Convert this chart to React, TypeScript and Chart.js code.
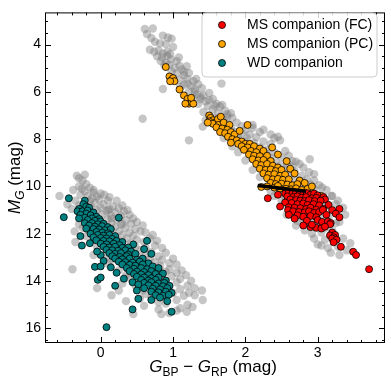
import React, { useEffect, useRef } from 'react';
import { Chart, registerables } from 'chart.js';

Chart.register(...registerables);

const xRange = [-0.77, 3.93];
const yRange = [2.64, 16.62];
const xMajorTicks = [0, 1, 2, 3];
const yMajorTicks = [4, 6, 8, 10, 12, 14, 16];
const xMinorStep = 0.2;
const yMinorStep = 0.5;

const legendLabels = ['MS companion (FC)', 'MS companion (PC)', 'WD companion'];
const seriesColors = ['#ff0000', '#ffa500', '#008080'];

const cutLineX = [2.17, 2.84];
const cutLineY = [9.96, 10.2];

const grayMS: number[][] = [
  [0.61,3.34],[0.72,3.32],[0.64,3.55],[0.75,3.88],[0.86,3.62],[0.93,3.7],[0.98,3.75],[0.7,3.72],[0.82,3.95],[0.9,3.98],[1.0,4.1],[0.68,4.22],[0.74,4.3],[0.8,4.25],[0.86,4.38],
  [0.78,4.5],[0.85,4.55],[0.92,4.48],[0.97,4.62],[0.83,4.7],[0.9,4.78],[1.05,4.7],[0.95,4.85],[1.09,4.9],[1.19,4.92],[1.02,4.98],[0.88,4.88],[1.12,5.05],
  [0.98,5.15],[1.05,5.22],[1.15,5.3],[1.22,5.2],[1.0,5.4],[1.1,5.5],[1.2,5.45],[1.28,5.55],[1.67,5.65],[1.15,5.7],[1.25,5.75],[1.35,5.68],[1.1,5.8],[0.86,5.88],[1.3,5.9],[1.4,5.85],[1.22,5.98],
  [1.33,6.1],[1.42,6.15],[1.5,6.05],[1.28,6.25],[1.38,6.3],[1.45,6.4],[1.55,6.3],[1.6,6.5],[1.35,6.5],[1.48,6.6],[1.65,6.62],[1.72,6.8],[1.55,6.75],[1.42,6.85],[1.62,6.9],[1.75,6.95],[1.5,7.0],[0.58,7.14],
  [1.58,7.1],[1.7,7.15],[1.82,7.1],[1.62,7.3],[1.75,7.35],[1.88,7.3],[1.95,7.45],[1.68,7.5],[1.8,7.55],[2.0,7.6],[2.1,7.52],[1.85,7.7],[1.95,7.75],[2.06,7.8],[2.2,7.7],[1.75,7.85],[1.9,7.9],[2.02,7.95],[2.15,7.92],[2.45,7.9],[1.22,8.05],
  [1.9,8.05],[2.0,8.1],[2.12,8.15],[2.25,8.1],[2.35,8.2],[1.95,8.25],[2.08,8.3],[2.2,8.35],[2.3,8.45],[2.05,8.5],[2.15,8.55],[2.28,8.6],[2.4,8.55],[2.55,8.5],[2.12,8.7],[2.22,8.75],[2.35,8.8],[2.5,8.78],[2.89,8.85],[2.2,8.9],[2.3,8.95],[2.42,8.98],[2.65,8.92],
  [2.25,9.05],[2.35,9.1],[2.48,9.12],[2.58,9.05],[2.75,9.05],[2.3,9.25],[2.42,9.3],[2.55,9.28],[2.68,9.35],[2.38,9.45],[2.5,9.5],[2.62,9.52],[2.78,9.55],[2.95,9.48],[2.45,9.65],[2.56,9.7],[2.7,9.72],[2.85,9.7],[2.5,9.85],[2.62,9.9],[2.75,9.88],[2.9,9.92],[3.06,10.04],
  [2.45,10.05],[2.58,10.1],[2.7,10.05],[2.82,10.15],[2.95,10.1],[3.19,10.4],[2.5,10.25],[2.65,10.3],[2.78,10.35],[2.9,10.3],[3.02,10.35],[2.55,10.45],[2.68,10.5],[2.8,10.55],[2.92,10.5],[3.1,10.6],[2.6,10.65],[2.72,10.7],[2.85,10.75],[2.98,10.8],[3.2,10.4],[2.62,10.85],[2.75,10.9],[2.88,10.95],[3.05,10.9],[3.25,10.75],
  [2.57,11.2],[2.7,11.1],[2.82,11.15],[2.95,11.1],[3.08,11.2],[3.22,11.1],[2.78,11.35],[2.9,11.4],[3.02,11.45],[3.15,11.38],[2.7,11.65],[2.85,11.6],[2.98,11.7],[3.1,11.75],[3.3,11.5],[2.92,12.0],[3.05,11.95],[3.18,12.05],
  [3.1,12.25],[3.22,12.3],[3.14,12.6],[3.3,12.9],[3.0,12.45],[3.28,12.55],[3.45,12.4],[3.35,12.2],
  [1.41,7.47],[1.45,7.2],[2.1,7.4],[2.25,7.6],[2.35,7.8],[2.48,8.05],[2.4,7.95],[1.3,6.0],[1.38,6.2],[1.5,6.35],[1.58,6.6],[1.68,6.55],[1.8,6.9],[1.75,7.05],[1.2,5.65],[1.32,5.45],[0.92,4.3],[0.96,4.4],[1.08,4.55],[1.15,5.15],
  [2.6,8.7],[2.7,8.95],[2.8,9.2],[2.88,9.4],[2.65,9.15],[2.95,9.75],[3.02,9.95],[3.12,10.15],[3.28,10.6],[3.35,10.9],[3.38,11.2],[3.25,11.55],[3.2,11.85],[2.6,10.95],[2.5,10.6],[2.4,10.4],[2.35,10.2],[2.2,9.6],[2.1,9.3],[2.0,8.9],[1.9,8.55],[1.82,8.3],[1.7,7.95],[2.72,11.45],[2.82,11.85],[2.95,12.2],[3.05,12.5],[3.18,12.8],[3.4,12.7]
];

const grayWD: number[][] = [
  [-0.33,9.55],[-0.25,9.75],[-0.2,9.9],[-0.3,10.0],[-0.15,10.05],[-0.38,10.15],[-0.22,10.2],[-0.1,10.25],[-0.57,10.4],[-0.28,10.35],[-0.18,10.4],[-0.05,10.42],[0.05,10.35],[-0.12,10.5],
  [-0.35,10.6],[-0.02,10.55],[0.1,10.6],[-0.08,10.7],[0.04,10.75],[0.17,10.85],[-0.14,10.82],[0.0,10.9],[0.12,10.95],[0.25,10.92],[-0.4,10.95],[-0.05,11.0],[0.08,11.05],[0.2,11.1],[0.32,11.05],[-0.18,11.12],[0.02,11.2],[0.14,11.22],[0.28,11.25],[0.4,11.2],[-0.08,11.3],[0.1,11.38],[0.22,11.4],[0.35,11.42],
  [-0.36,11.9],[0.0,11.55],[0.15,11.55],[0.28,11.6],[0.42,11.58],[0.05,11.7],[0.2,11.72],[0.34,11.75],[0.48,11.8],[-0.25,11.75],[0.1,11.85],[0.25,11.9],[0.4,11.95],[0.55,11.9],[0.15,12.0],[0.3,12.05],[0.45,12.08],[0.68,12.2],[-0.2,12.1],[0.2,12.15],[0.36,12.2],[0.5,12.25],[0.6,12.35],[0.25,12.32],[0.42,12.4],[-0.35,12.35],
  [0.3,12.5],[0.48,12.55],[0.62,12.6],[0.75,12.5],[0.38,12.65],[0.55,12.7],[0.7,12.78],[0.45,12.82],[0.62,12.9],[0.8,12.95],[-0.1,12.9],[0.52,13.0],[0.68,13.05],[0.85,13.1],[0.6,13.15],[0.75,13.2],[0.95,13.25],[0.1,13.25],[0.65,13.3],[0.82,13.35],[0.95,13.5],[-0.39,13.5],[0.72,13.45],
  [0.78,13.55],[0.9,13.6],[1.05,13.65],[0.85,13.75],[0.98,13.8],[1.1,13.9],[0.35,13.75],[0.6,14.0],[0.9,14.0],[1.05,14.05],[1.2,14.2],[0.95,14.25],[1.1,14.35],[1.4,14.4],[0.3,14.1],[1.0,14.5],[1.3,14.6],[1.15,14.62],[0.62,14.55],[1.41,14.8],[1.05,14.8],[0.9,14.95],[1.2,15.0],[0.6,15.05],[1.27,15.1],[0.8,15.2],[1.05,15.25],[1.19,15.3],[0.45,15.4],[0.95,15.35],[-0.05,14.3],[0.15,14.6],[0.84,15.4],[0.54,14.75],
  [-0.3,9.65],[-0.22,9.5],[-0.26,10.1],[-0.1,10.15],[0.0,10.3],[0.12,10.45],[0.22,10.6],[0.3,10.8],[0.37,11.0],[0.45,11.35],[0.5,11.5],[0.58,11.65],[0.62,11.95],[0.72,12.05],[0.78,12.3],[0.85,12.6],[0.9,12.8],[1.0,13.05],[1.05,13.3],[1.12,13.55],[1.18,13.75],[1.25,14.0],[1.3,14.3],[1.22,14.5],
  [-0.15,10.6],[-0.3,10.8],[-0.46,10.75],[-0.2,11.45],[-0.3,11.6],[-0.16,11.9],[-0.1,12.25],[-0.05,12.55],[0.05,13.0],[0.15,13.1],[0.25,13.55],[0.38,13.85],[0.48,14.2],[0.58,14.4],[0.7,14.7],[0.8,14.9],[1.1,15.15],[0.25,14.4],[0.35,14.85],[0.1,11.0],[0.3,11.6],[0.15,11.35],[0.42,12.65],[0.55,13.4],[0.7,13.9],[0.9,14.3]
];

const msPC: number[][] = [
  [0.9,4.95],[0.95,5.35],[0.98,5.5],[1.0,5.42],[1.02,5.55],[0.96,5.55],[1.09,5.9],[1.15,6.15],[1.2,6.3],[1.22,6.5],[1.26,6.45],[1.28,6.5],[1.17,6.5],[1.25,6.25],
  [1.5,7.0],[1.52,7.1],[1.55,7.2],[1.5,7.25],[1.58,7.3],[1.62,7.15],[1.66,7.05],[1.55,7.35],[1.63,7.4],[1.48,7.3],[1.7,7.3],[1.78,7.4],[1.6,7.5],[1.68,7.55],[1.75,7.6],[2.03,7.4],[1.65,7.7],[1.72,7.75],[1.8,7.7],[1.85,7.8],[1.76,7.9],[1.92,7.65],
  [1.82,8.0],[1.88,8.05],[1.95,8.1],[1.8,8.15],[1.9,8.2],[2.0,8.2],[2.06,8.2],[1.95,8.3],[2.03,8.35],[2.12,8.3],[2.2,8.4],[2.37,8.35],[1.98,8.45],[2.08,8.5],[2.15,8.55],[2.25,8.5],[2.05,8.65],[2.12,8.7],[2.2,8.72],[2.3,8.7],[2.45,8.65],[2.1,8.85],[2.18,8.9],[2.25,8.88],[2.35,8.92],[2.57,8.93],
  [2.15,9.05],[2.22,9.1],[2.3,9.05],[2.38,9.12],[2.45,9.2],[2.2,9.25],[2.28,9.3],[2.35,9.28],[2.42,9.35],[2.5,9.3],[2.62,9.25],[2.25,9.45],[2.32,9.5],[2.4,9.48],[2.48,9.55],[2.55,9.5],[2.68,9.45],[2.3,9.65],[2.38,9.7],[2.45,9.68],[2.52,9.72],[2.6,9.7],[2.75,9.75],[2.35,9.85],[2.42,9.9],[2.5,9.88],[2.58,9.92],[2.65,9.95],[2.72,9.9],[2.82,9.85],
  [2.22,10.02],[2.3,10.0],[2.4,10.05],[2.48,10.08],[2.56,10.1],[2.63,10.12],[2.7,10.08],[2.78,10.15],[2.86,10.1],[3.05,10.4],[2.92,10.0],[2.45,9.98]
];

const msFC: number[][] = [
  [2.31,10.5],[2.45,10.35],[2.55,10.3],[2.6,10.25],[2.65,10.3],[2.7,10.28],[2.75,10.3],[2.8,10.32],[2.85,10.28],[2.9,10.35],[2.95,10.3],[3.0,10.38],[3.08,10.45],[2.58,10.42],[2.66,10.45],[2.72,10.42],[2.78,10.48],[2.84,10.45],[2.92,10.5],[2.98,10.48],[3.1,10.55],
  [2.62,10.55],[2.7,10.58],[2.76,10.6],[2.82,10.62],[2.88,10.58],[2.96,10.62],[3.04,10.6],[2.55,10.68],[2.64,10.7],[2.72,10.75],[2.8,10.72],[2.86,10.78],[2.94,10.75],[3.02,10.8],[3.15,10.78],
  [2.48,10.85],[2.6,10.88],[2.68,10.9],[2.76,10.92],[2.84,10.95],[2.9,10.9],[2.98,10.98],[3.08,10.95],[3.3,10.95],[2.59,11.0],[2.66,11.05],[2.74,11.08],[2.82,11.1],[2.88,11.05],[2.95,11.12],[3.02,11.08],[3.07,10.99],[3.2,11.0],
  [2.6,11.2],[2.72,11.22],[2.8,11.28],[2.9,11.25],[2.98,11.3],[3.12,11.2],[3.25,11.15],[3.3,11.3],[2.68,11.36],[2.85,11.45],[3.0,11.42],[3.06,11.5],[3.14,11.48],[3.18,11.55],[3.17,11.6],
  [2.8,11.65],[2.9,11.72],[2.98,11.75],[3.05,11.78],[2.92,11.62],[3.1,11.7],
  [3.2,11.95],[3.17,12.07],[3.24,12.05],[3.22,12.15],[3.2,12.2],[3.26,12.25],[3.22,12.36],[3.32,12.55],[3.49,12.76],[3.53,12.9],[3.71,13.5]
];

const wdComp: number[][] = [
  [-0.44,10.5],[-0.22,10.6],[-0.24,10.75],[-0.2,10.85],[-0.3,10.95],[-0.16,10.9],[-0.51,11.3],
  [-0.32,11.05],[-0.25,11.05],[-0.18,11.02],[-0.1,11.1],[-0.2,11.15],[-0.28,11.2],[-0.14,11.22],[-0.06,11.28],[-0.22,11.32],[-0.12,11.35],[-0.02,11.38],[-0.18,11.42],[-0.08,11.45],[0.25,11.32],[-0.3,11.35],[0.0,11.48],
  [-0.22,11.55],[-0.12,11.55],[-0.04,11.6],[0.04,11.58],[-0.16,11.65],[-0.08,11.7],[0.02,11.68],[0.1,11.72],[-0.2,11.78],[-0.1,11.8],[-0.02,11.82],[0.06,11.85],[0.14,11.8],[-0.06,11.92],[0.02,11.95],[0.1,11.98],[-0.14,12.0],[-0.28,12.1],
  [-0.04,12.05],[0.04,12.08],[0.12,12.05],[0.2,12.1],[-0.1,12.15],[0.0,12.18],[0.08,12.2],[0.16,12.22],[0.64,12.3],[-0.06,12.28],[0.04,12.3],[0.12,12.32],[0.22,12.3],[0.3,12.35],[0.0,12.42],[0.08,12.45],[0.18,12.42],[0.26,12.48],[-0.26,12.5],[0.45,12.45],[-0.15,12.4],
  [0.04,12.55],[0.12,12.58],[0.2,12.55],[0.3,12.6],[0.38,12.58],[0.08,12.68],[0.16,12.7],[0.24,12.72],[0.34,12.7],[0.42,12.75],[0.6,12.65],[0.12,12.82],[0.2,12.85],[0.28,12.82],[0.38,12.88],[0.48,12.85],[0.0,12.9],[0.16,12.95],[0.26,12.98],[0.36,12.95],[0.7,12.85],[-0.05,12.75],
  [0.2,13.05],[0.3,13.08],[0.4,13.05],[0.5,13.1],[0.58,13.05],[0.04,13.15],[0.25,13.18],[0.34,13.2],[0.44,13.22],[0.54,13.18],[0.66,13.25],[0.3,13.3],[0.4,13.32],[0.48,13.35],[0.58,13.3],[0.72,13.38],[-0.08,13.4],[0.0,13.38],[0.36,13.45],[0.46,13.48],[0.56,13.45],[0.64,13.5],[0.8,13.45],[0.14,13.42],
  [0.4,13.58],[0.5,13.6],[0.6,13.62],[0.7,13.58],[0.46,13.7],[0.56,13.72],[0.66,13.75],[0.76,13.7],[0.86,13.68],[0.22,13.65],[-0.04,13.95],[0.0,13.85],[0.5,13.82],[0.6,13.85],[0.7,13.88],[0.8,13.85],[0.32,13.9],[0.56,13.95],[0.66,13.98],[0.76,13.95],[0.9,13.98],
  [0.44,14.05],[0.6,14.08],[0.7,14.05],[0.8,14.1],[0.88,14.08],[0.52,14.15],[0.66,14.18],[0.76,14.2],[0.86,14.22],[0.95,14.2],[0.6,14.3],[0.72,14.32],[0.82,14.35],[0.92,14.3],[0.2,14.2],[0.7,14.45],[0.8,14.48],[0.9,14.45],[0.98,14.5],[0.5,14.4],
  [0.76,14.6],[0.86,14.62],[0.94,14.58],[0.82,14.7],[0.7,14.8],[0.92,14.85],[0.52,14.75],[0.44,15.2],[0.98,15.3],[0.08,15.95]
];

const FONT = '"Liberation Sans", Arial, Helvetica, sans-serif';

const toXY = (pts: number[][]) => pts.map(([x, y]) => ({ x, y }));

const decorPlugin = {
  id: 'decor',
  afterDraw(chart: any) {
    const { ctx, chartArea: a, scales } = chart;
    const xs = scales.x;
    const ys = scales.y;
    ctx.save();
    ctx.strokeStyle = '#000';
    ctx.lineWidth = 1;
    ctx.strokeRect(a.left + 0.5, a.top + 0.5, a.right - a.left - 1, a.bottom - a.top - 1);
    const seg = (x1: number, y1: number, x2: number, y2: number) => {
      ctx.beginPath();
      ctx.moveTo(x1, y1);
      ctx.lineTo(x2, y2);
      ctx.stroke();
    };
    const xTick = (v: number, len: number) => {
      const px = Math.round(xs.getPixelForValue(v)) + 0.5;
      if (px < a.left || px > a.right) return;
      seg(px, a.bottom, px, a.bottom - len);
      seg(px, a.top, px, a.top + len);
    };
    const yTick = (v: number, len: number) => {
      const py = Math.round(ys.getPixelForValue(v)) + 0.5;
      if (py < a.top || py > a.bottom) return;
      seg(a.left, py, a.left + len, py);
      seg(a.right, py, a.right - len, py);
    };
    for (let i = Math.ceil(xRange[0] / xMinorStep); i * xMinorStep <= xRange[1]; i++) xTick(i * xMinorStep, 3);
    for (let i = Math.ceil(yRange[0] / yMinorStep); i * yMinorStep <= yRange[1]; i++) yTick(i * yMinorStep, 3);
    xMajorTicks.forEach((v) => xTick(v, 6));
    yMajorTicks.forEach((v) => yTick(v, 6));

    // legend
    const lx = 202, ly = 13, lw = 175, lh = 64, r = 4;
    ctx.beginPath();
    ctx.moveTo(lx + r, ly);
    ctx.arcTo(lx + lw, ly, lx + lw, ly + lh, r);
    ctx.arcTo(lx + lw, ly + lh, lx, ly + lh, r);
    ctx.arcTo(lx, ly + lh, lx, ly, r);
    ctx.arcTo(lx, ly, lx + lw, ly, r);
    ctx.closePath();
    ctx.fillStyle = 'rgba(255,255,255,0.8)';
    ctx.fill();
    ctx.strokeStyle = '#cccccc';
    ctx.stroke();
    ctx.font = `14px ${FONT}`;
    ctx.textBaseline = 'middle';
    ctx.textAlign = 'left';
    legendLabels.forEach((lab, i) => {
      const cy = 25 + i * 19;
      ctx.beginPath();
      ctx.arc(222, cy, 3.5, 0, Math.PI * 2);
      ctx.fillStyle = seriesColors[i];
      ctx.fill();
      ctx.strokeStyle = '#000';
      ctx.lineWidth = 0.8;
      ctx.stroke();
      ctx.fillStyle = '#000';
      ctx.fillText(lab, 247, cy + 0.5);
    });

    // axis titles
    const drawRich = (parts: { t: string; font: string; dy: number }[], cx: number, by: number) => {
      let w = 0;
      parts.forEach((p) => { ctx.font = p.font; w += ctx.measureText(p.t).width; });
      let x = cx - w / 2;
      ctx.textAlign = 'left';
      ctx.textBaseline = 'alphabetic';
      ctx.fillStyle = '#000';
      parts.forEach((p) => {
        ctx.font = p.font;
        ctx.fillText(p.t, x, by + p.dy);
        x += ctx.measureText(p.t).width;
      });
    };
    const big = `17px ${FONT}`;
    const bigIt = `italic 17px ${FONT}`;
    const sub = `12px ${FONT}`;
    const subIt = `italic 12px ${FONT}`;
    drawRich([
      { t: 'G', font: bigIt, dy: 0 },
      { t: 'BP', font: sub, dy: 4 },
      { t: ' \u2212 ', font: big, dy: 0 },
      { t: 'G', font: bigIt, dy: 0 },
      { t: 'RP', font: sub, dy: 4 },
      { t: ' (mag)', font: big, dy: 0 },
    ], (a.left + a.right) / 2 - 2, 372);
    ctx.save();
    ctx.translate(20, (a.top + a.bottom) / 2);
    ctx.rotate(-Math.PI / 2);
    drawRich([
      { t: 'M', font: bigIt, dy: 0 },
      { t: 'G', font: subIt, dy: 4 },
      { t: ' (mag)', font: big, dy: 0 },
    ], 0, 0);
    ctx.restore();
    ctx.restore();
  },
};

export default function App() {
  const ref = useRef<HTMLCanvasElement>(null);
  useEffect(() => {
    document.body.style.margin = '0';
    const canvas = ref.current!;
    const chart = new Chart(canvas, {
      type: 'scatter',
      data: {
        datasets: [
          {
            label: 'cut',
            data: cutLineX.map((x, i) => ({ x, y: cutLineY[i] })),
            showLine: true,
            borderColor: '#000',
            borderWidth: 3.5,
            pointRadius: 0,
          } as any,
          {
            label: legendLabels[0],
            data: toXY(msFC),
            backgroundColor: seriesColors[0],
            borderColor: '#000',
            borderWidth: 0.8,
            pointRadius: 3.5,
          },
          {
            label: legendLabels[1],
            data: toXY(msPC),
            backgroundColor: seriesColors[1],
            borderColor: '#000',
            borderWidth: 0.8,
            pointRadius: 3.5,
          },
          {
            label: legendLabels[2],
            data: toXY(wdComp),
            backgroundColor: seriesColors[2],
            borderColor: '#000',
            borderWidth: 0.8,
            pointRadius: 3.5,
          },
          {
            label: 'all',
            data: toXY(grayMS.concat(grayWD)),
            backgroundColor: 'rgba(128,128,128,0.45)',
            borderWidth: 0,
            pointRadius: 4.2,
          },
        ],
      },
      options: {
        responsive: false,
        animation: false,
        layout: { padding: { left: 0, top: 5, right: 6, bottom: 0 } },
        plugins: { legend: { display: false }, tooltip: { enabled: false } },
        scales: {
          x: {
            type: 'linear',
            min: xRange[0],
            max: xRange[1],
            afterBuildTicks: (s: any) => { s.ticks = xMajorTicks.map((value) => ({ value })); },
            afterFit: (s: any) => { s.height = 43; },
            grid: { display: false, drawTicks: false },
            border: { display: false },
            ticks: { color: '#000', font: { family: FONT, size: 14 }, padding: 2, maxRotation: 0 },
          },
          y: {
            type: 'linear',
            reverse: true,
            min: yRange[0],
            max: yRange[1],
            afterBuildTicks: (s: any) => { s.ticks = yMajorTicks.map((value) => ({ value })); },
            afterFit: (s: any) => { s.width = 45; },
            grid: { display: false, drawTicks: false },
            border: { display: false },
            ticks: { color: '#000', font: { family: FONT, size: 14 }, padding: 4 },
          },
        },
      },
      plugins: [decorPlugin],
    });
    return () => chart.destroy();
  }, []);
  return (
    <div style={{ width: 391, height: 386 }}>
      <canvas ref={ref} width={391} height={386} style={{ display: 'block' }} />
    </div>
  );
}
